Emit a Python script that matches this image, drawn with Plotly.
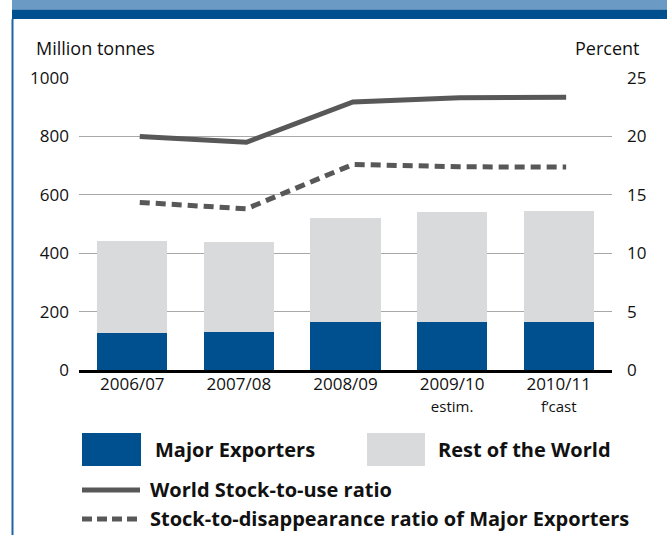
import plotly.graph_objects as go

# ---- data ----
categories = ["2006/07", "2007/08", "2008/09", "2009/10", "2010/11"]
sub_labels = ["", "", "", "estim.", "f\u2019cast"]
major_exporters = [128, 130, 164, 166, 166]
rest_of_world = [313, 308, 358, 375, 379]
world_stock_to_use = [20.0, 19.5, 22.95, 23.3, 23.35]
stock_to_disappearance = [14.35, 13.8, 17.6, 17.4, 17.37]

left_ticks = [0, 200, 400, 600, 800, 1000]
right_ticks = [0, 5, 10, 15, 20, 25]

# ---- style ----
W, H = 667, 535
L, R, T, B = 79, 55, 78, 165
PW, PH = W - L - R, H - T - B
BLUE = "#00508f"
GREY = "#d9dadb"
LINE = "#585858"
TXT = "#111111"
FONT = "Open Sans, Noto Sans, sans-serif"


def px(x):
    return (x - L) / PW


def py(y):
    return (H - B - y) / PH


ticktext = [c if not s else f"{c}<br><span style='font-size:15px'>{s}</span>"
            for c, s in zip(categories, sub_labels)]

fig = go.Figure()
fig.add_trace(go.Bar(x=categories, y=major_exporters, name="Major Exporters",
                     marker=dict(color=BLUE, line=dict(width=0)), width=0.66,
                     showlegend=False))
fig.add_trace(go.Bar(x=categories, y=rest_of_world, name="Rest of the World",
                     marker=dict(color=GREY, line=dict(width=0)), width=0.66,
                     showlegend=False))
fig.add_trace(go.Scatter(x=categories, y=world_stock_to_use, name="World Stock-to-use ratio",
                         mode="lines", line=dict(color=LINE, width=5),
                         xaxis="x2", yaxis="y2", showlegend=False))
fig.add_trace(go.Scatter(x=categories, y=stock_to_disappearance,
                         name="Stock-to-disappearance ratio of Major Exporters",
                         mode="lines", line=dict(color=LINE, width=5, dash="10px,6px"),
                         xaxis="x2", yaxis="y2", showlegend=False))

shapes = [
    # header bands
    dict(type="rect", xref="paper", yref="paper", x0=px(12), x1=px(W + 5), y0=py(-2), y1=py(9.5),
         fillcolor="#6b9bc4", line=dict(width=0), layer="above"),
    dict(type="rect", xref="paper", yref="paper", x0=px(12), x1=px(W + 5), y0=py(9.5), y1=py(19),
         fillcolor="#00508f", line=dict(width=0), layer="above"),
    # left border
    dict(type="line", xref="paper", yref="paper", x0=px(12.5), x1=px(12.5), y0=py(19), y1=py(H + 5),
         line=dict(color="#1f64a8", width=2)),
    # legend boxes
    dict(type="rect", xref="paper", yref="paper", x0=px(82), x1=px(141), y0=py(466), y1=py(433),
         fillcolor=BLUE, line=dict(width=0)),
    dict(type="rect", xref="paper", yref="paper", x0=px(367), x1=px(425), y0=py(466), y1=py(433),
         fillcolor=GREY, line=dict(width=0)),
    # legend lines
    dict(type="line", xref="paper", yref="paper", x0=px(82), x1=px(140), y0=py(490), y1=py(490),
         line=dict(color=LINE, width=5)),
    dict(type="line", xref="paper", yref="paper", x0=px(82), x1=px(140), y0=py(519), y1=py(519),
         line=dict(color=LINE, width=5, dash="10px,5px")),
]

leg_font = dict(family=FONT, size=20, color=TXT)
annotations = [
    dict(text="Million tonnes", x=px(34), y=py(48), xref="paper", yref="paper",
         xanchor="left", yanchor="middle", showarrow=False, font=dict(family=FONT, size=18, color=TXT)),
    dict(text="Percent", x=px(641), y=py(48), xref="paper", yref="paper",
         xanchor="right", yanchor="middle", showarrow=False, font=dict(family=FONT, size=18, color=TXT)),
    dict(text="<b>Major Exporters</b>", x=px(153), y=py(449), xref="paper", yref="paper",
         xanchor="left", yanchor="middle", showarrow=False, font=leg_font),
    dict(text="<b>Rest of the World</b>", x=px(436), y=py(449), xref="paper", yref="paper",
         xanchor="left", yanchor="middle", showarrow=False, font=leg_font),
    dict(text="<b>World Stock-to-use ratio</b>", x=px(148), y=py(489), xref="paper", yref="paper",
         xanchor="left", yanchor="middle", showarrow=False, font=leg_font),
    dict(text="<b>Stock-to-disappearance ratio of Major Exporters</b>", x=px(148), y=py(518),
         xref="paper", yref="paper", xanchor="left", yanchor="middle", showarrow=False, font=leg_font),
]

fig.update_layout(
    width=W, height=H,
    margin=dict(l=L, r=R, t=T, b=B, pad=0),
    paper_bgcolor="white", plot_bgcolor="white",
    barmode="stack", bargap=0.34,
    font=dict(family=FONT, size=17, color=TXT),
    showlegend=False,
    xaxis=dict(type="category", range=[-0.5, 4.5], tickmode="array", tickvals=categories,
               ticktext=ticktext, showline=True, linecolor="black", linewidth=2.5,
               showgrid=False, ticks="", tickfont=dict(size=17), ticklabelstandoff=-3),
    xaxis2=dict(type="category", overlaying="x", range=[-0.57, 4.43], visible=False),
    yaxis=dict(range=[0, 1000], tickmode="array", tickvals=left_ticks, showgrid=True,
               gridcolor="#a8a8a8", gridwidth=1, zeroline=False, ticks="",
               ticklabelstandoff=9, tickfont=dict(size=17)),
    yaxis2=dict(range=[0, 25], overlaying="y", side="right", tickmode="array",
                tickvals=right_ticks, showgrid=False, zeroline=False, ticks="",
                ticklabelstandoff=14, tickfont=dict(size=17)),
    shapes=shapes, annotations=annotations,
)

fig.write_html("out.html", config={"displayModeBar": False},
               post_script="document.body.style.margin='0px';")
